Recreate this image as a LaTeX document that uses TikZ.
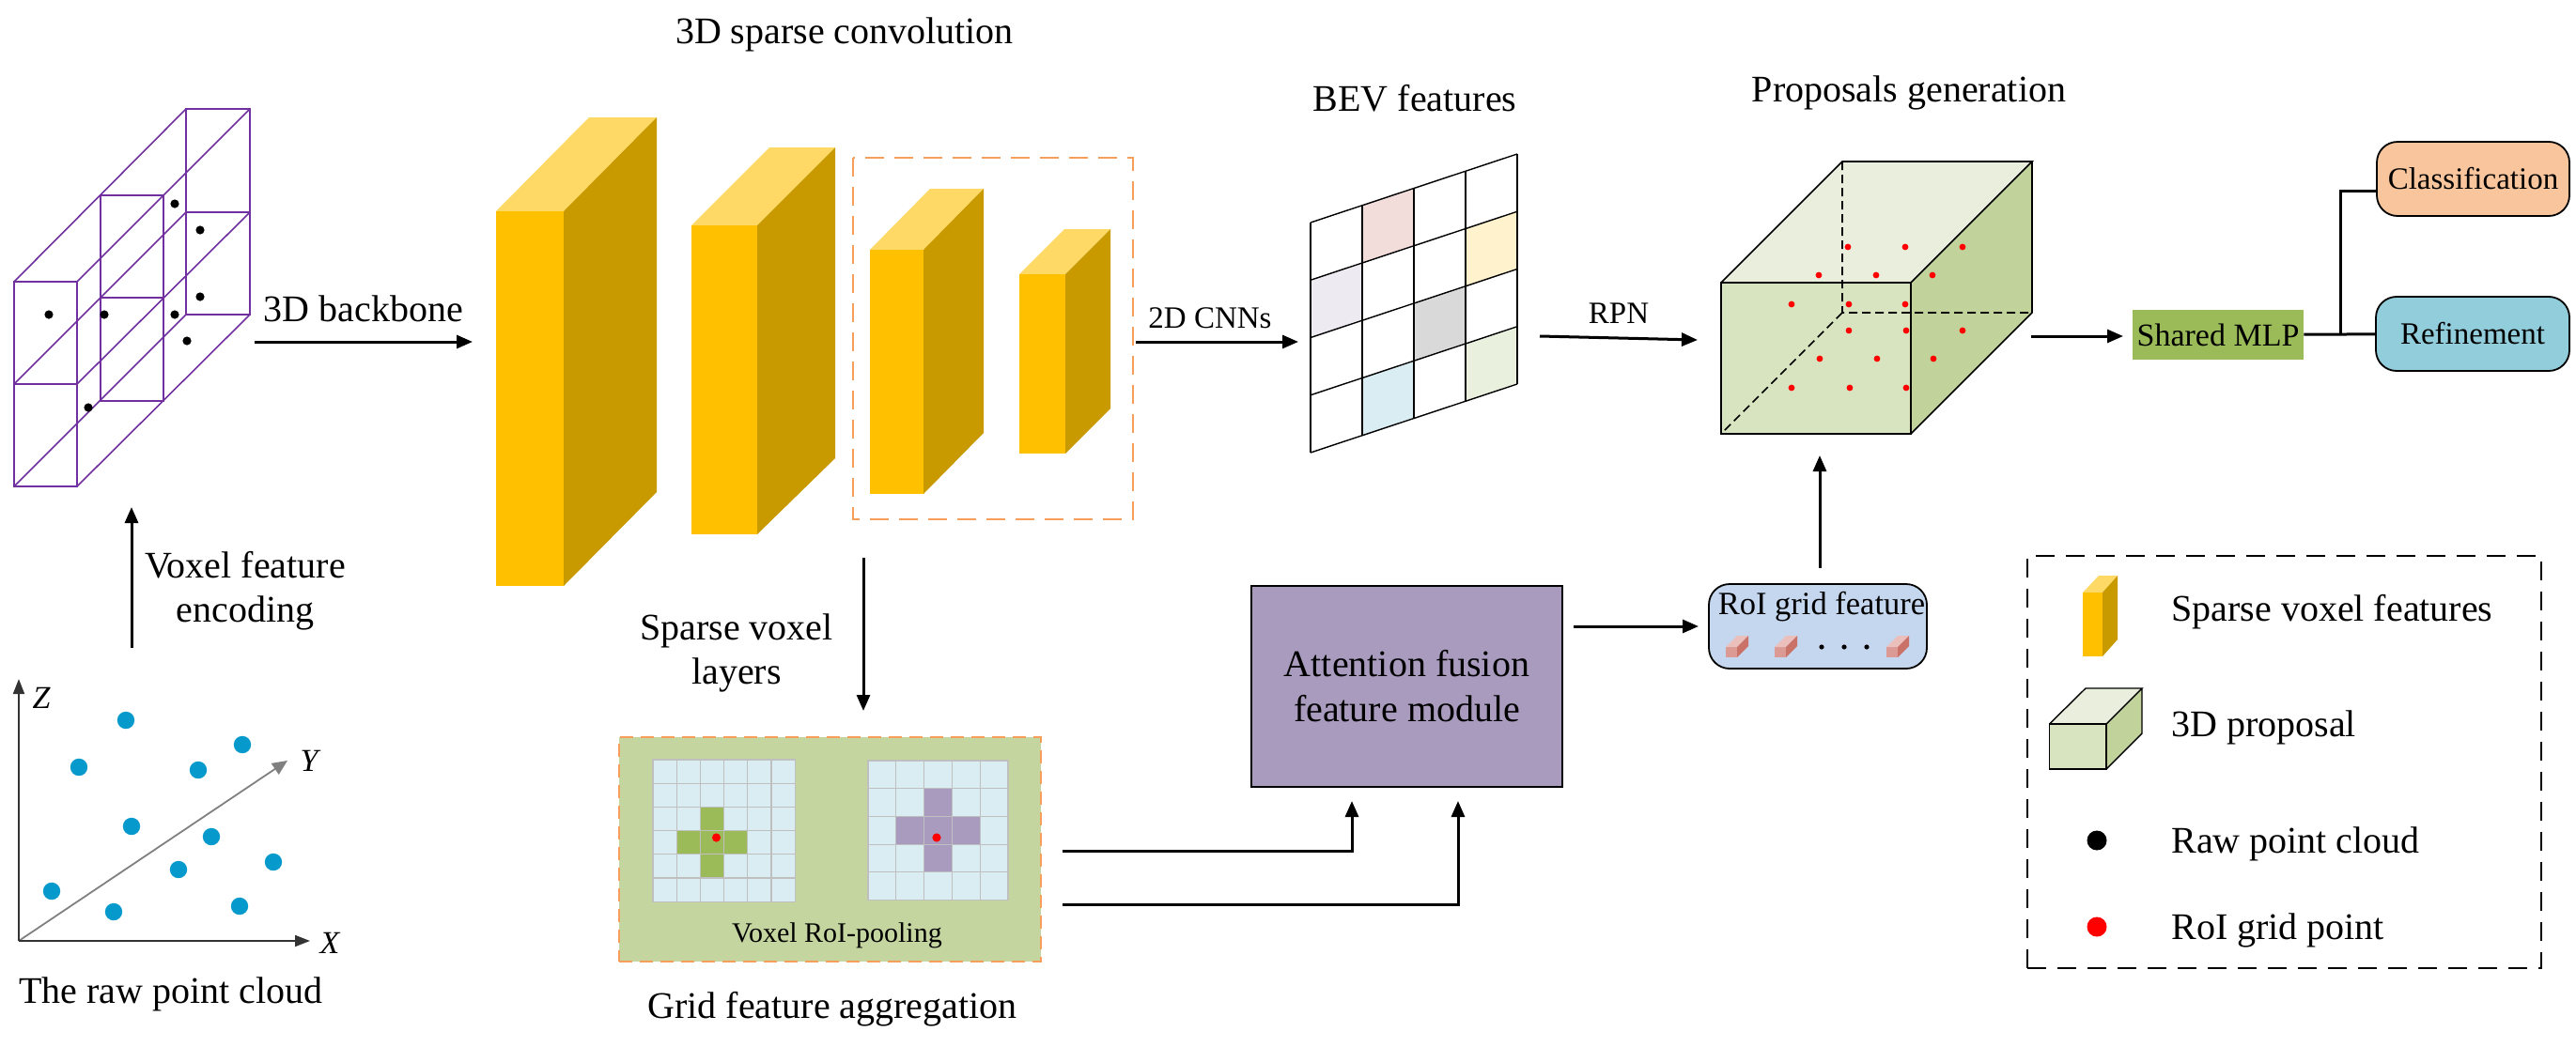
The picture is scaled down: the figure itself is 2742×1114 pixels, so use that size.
\documentclass[tikz,border=0pt]{standalone}
\usepackage{fontspec}
\setmainfont{Liberation Serif}
\usetikzlibrary{arrows.meta,positioning}

\definecolor{voxline}{HTML}{7030A0}
\definecolor{dotblue}{HTML}{0599CC}
\definecolor{blockfront}{HTML}{FFC000}
\definecolor{blocktop}{HTML}{FFD966}
\definecolor{blockside}{HTML}{C99A00}
\definecolor{dashorange}{HTML}{F79F5A}
\definecolor{panelgreen}{HTML}{C4D5A0}
\definecolor{cellblue}{HTML}{DAEDF3}
\definecolor{cellgray}{HTML}{BFBFBF}
\definecolor{plusgreen}{HTML}{9BBB59}
\definecolor{pluspurple}{HTML}{A99BBE}
\definecolor{propfront}{HTML}{D8E4BF}
\definecolor{proptop}{HTML}{E9EEDD}
\definecolor{propside}{HTML}{C1D39B}
\definecolor{roiblue}{HTML}{C5D7EF}
\definecolor{classorange}{HTML}{F9C59C}
\definecolor{refineblue}{HTML}{92CDDC}

% block: front x1 x2, y1 y2, back x3 x4, back top y, back bottom y
\newcommand{\voxblock}[8]{
   \fill[blocktop] (#1,#3) -- (#5,#7) -- (#6,#7) -- (#2,#3) -- cycle;
   \fill[blockside] (#2,#3) -- (#6,#7) -- (#6,#8) -- (#2,#4) -- cycle;
   \fill[blockfront] (#1,#3) rectangle (#2,#4);
}
% brick of the roi grid feature, left edge given
\newcommand{\roibrick}[1]{
   \fill[brickfront] (#1,689) rectangle (#1+12,700);
   \fill[bricktop] (#1,689) -- (#1+12,677) -- (#1+24,677) -- (#1+12,689) -- cycle;
   \fill[brickside] (#1+12,689) -- (#1+24,677) -- (#1+24,688) -- (#1+12,700) -- cycle;
}
\definecolor{brickfront}{HTML}{DC9A94}
\definecolor{bricktop}{HTML}{EBC0BC}
\definecolor{brickside}{HTML}{CB7268}

\begin{document}
\begin{tikzpicture}[x=0.5pt,y=-0.5pt]

   \tikzset{arrow/.style = {line width=1.5pt, -{Triangle[length=8.5pt,width=7pt]}} }
   \tikzset{wire/.style = {line width=1.5pt} }
   \tikzset{big/.style = {inner sep=0, anchor=base, font=\fontsize{20}{23.5}\selectfont} }
   \tikzset{mid/.style = {inner sep=0, anchor=base, font=\fontsize{16.5}{20}\selectfont} }
   \tikzset{legendtext/.style = {inner sep=0, anchor=base west, font=\fontsize{20}{23.5}\selectfont} }
   \tikzset{axis/.style = {inner sep=0, font=\fontsize{17}{20}\selectfont\itshape} }
   \tikzset{vox/.style = {voxline, line width=0.8pt} }
   \tikzset{rawdot/.style = {circle, fill=black, inner sep=0, minimum size=9pt} }
   \tikzset{cell/.style = {draw=cellgray, line width=0.6pt, fill=cellblue} }
   \tikzset{orangebox/.style = {draw=dashorange, line width=1.4pt, dash pattern=on 10pt off 5.5pt} }
   \tikzset{roundbox/.style = {rectangle, draw, rounded corners=11pt, line width=0.9pt, inner sep=0} }

   \useasboundingbox (0,0) rectangle (2742,1114);

   % voxel grid
   \draw[vox] (198,116) rectangle (266,335) (198,226) -- (266,226);
   \draw[vox] (15,300) -- (198,116) (82,300) -- (266,116)
   (15,409) -- (198,226) (82,409) -- (266,226)
   (15,518) -- (198,335) (82,518) -- (266,335);
   \draw[vox, line width=1.1pt] (107,208) rectangle (174,427) (107,317) -- (174,317);
   \draw[vox, line width=1pt] (15,300) rectangle (82,518) (15,409) -- (82,409);
   \foreach \px/\py in {52/335,111/335,186/217,213/245,213/316,186/335,199/363,94/434}
      \fill (\px,\py) circle (2.3pt);

   \coordinate (voxout) at (271,364);
   \coordinate (voxin) at (140,540);
   \coordinate (rawout) at (140,690);
   \coordinate (blockin) at (503,364);
   \draw[arrow] (voxout) -- (blockin) node[big, pos=0.5, above=10pt] (backbone) {3D backbone};
   \draw[arrow] (rawout) -- (voxin);
   \node[big, align=center, anchor=center] (encode) at (261,629) {Voxel feature\\encoding};

   % raw points and axes
   \coordinate (origin) at (20,1002);
   \coordinate (ztip) at (20,723);
   \coordinate (xtip) at (330,1002);
   \coordinate (ytip) at (306,810);
   \draw[line width=0.9pt, gray, -{Triangle[length=8pt,width=7pt]}] (origin) -- (ytip);
   \draw[line width=0.9pt, black!80, -{Triangle[length=8pt,width=6pt]}] (origin) -- (ztip);
   \draw[line width=0.9pt, black!80, -{Triangle[length=8pt,width=6pt]}] (origin) -- (xtip);
   \node[axis] (zlabel) at (44,743) {Z};
   \node[axis] (xlabel) at (351,1004) {X};
   \node[axis] (ylabel) at (329,810) {Y};
   \foreach \px/\py in {134/767,84/817,258/793,211/820,140/880,225/891,190/926,291/918,55/949,121/971,255/965}
      \fill[dotblue] (\px,\py) circle (4.6pt);
   \node[big] (rawcap) at (182,1068) {The raw point cloud};

   % sparse convolution blocks
   \voxblock{528}{600}{225}{624}{627}{699}{125}{524}
   \voxblock{736}{806}{240}{569}{819}{889}{157}{488}
   \voxblock{926}{983}{266}{526}{990}{1047}{201}{461}
   \voxblock{1085}{1134}{292}{483}{1133}{1182}{244}{435}
   \draw[orangebox] (908,168) rectangle (1206,553);
   \node[big] (convtitle) at (899,46) {3D sparse convolution};

   \coordinate (convout) at (1209,364);
   \coordinate (bevin) at (1382,364);
   \draw[arrow] (convout) -- (bevin);
   \node[mid] (cnns) at (1288,349) {2D CNNs};

   \coordinate (convdown) at (919,594);
   \coordinate (poolin) at (919,757);
   \draw[arrow] (convdown) -- (poolin);
   \node[big, align=center, anchor=center] (layers) at (784,695) {Sparse voxel\\layers};

   % bev features
   \node[big] (bevtitle) at (1506,118) {BEV features};
   \begin{scope}[shift={(1395,237)}, x={(27.5pt,9.125pt)}, y={(0pt,-30.625pt)}]
      \foreach \c/\r/\tint in {1/0/F2DDDB,3/1/FFF2CC,0/1/EDEAF1,2/2/D9D9D9,1/3/DAEDF3,3/3/E9F0DE} {
         \definecolor{tint}{HTML}{\tint}
         \fill[tint] (\c,\r) -- ++(1,0) -- ++(0,1) -- ++(-1,0) -- cycle;
      }
      \foreach \k in {0,...,4} {
         \draw[line width=0.7pt] (0,\k) -- (4,\k);
         \draw[line width=0.7pt] (\k,0) -- (\k,4);
      }
   \end{scope}

   \coordinate (bevout) at (1639,358);
   \coordinate (propin) at (1807,362);
   \draw[arrow] (bevout) -- (propin);
   \node[mid] (rpn) at (1723,344) {RPN};

   % proposal box
   \node[big] (proptitle) at (2032,108) {Proposals generation};
   \fill[proptop] (1832,301) -- (1961,172) -- (2163,172) -- (2034,301) -- cycle;
   \fill[propside] (2034,301) -- (2163,172) -- (2163,333) -- (2034,462) -- cycle;
   \fill[propfront] (1832,301) rectangle (2034,462);
   \draw[line width=0.8pt, dash pattern=on 4.5pt off 2.5pt] (1961,172) -- (1961,333) -- (2163,333) (1961,333) -- (1832,462);
   \draw[line width=0.8pt] (1832,301) -- (1961,172) -- (2163,172) -- (2034,301) (2163,172) -- (2163,333) -- (2034,462);
   \draw[line width=0.9pt] (1832,301) rectangle (2034,462);
   \foreach \px/\py in {1967/263,2028/263,2089/263,1936/293,1997/293,2057/293,1907/324,1968/324,2028/324,1968/352,2029/352,2089/352,1937/382,1998/382,2058/382,1907/413,1969/413,2029/413}
      \fill[red] (\px,\py) circle (1.7pt);

   % shared mlp and heads
   \node[mid, anchor=center, fill=plusgreen, minimum width=91pt, minimum height=26.5pt, font=\fontsize{17}{20}\selectfont] (mlp) at (2361,356.5) {Shared MLP};
   \node[mid, roundbox, anchor=center, fill=classorange, minimum width=102.5pt, minimum height=39.5pt] (classify) at (2632.5,190.5) {Classification};
   \node[mid, roundbox, anchor=center, fill=refineblue, minimum width=103pt, minimum height=39.5pt] (refine) at (2632,355.5) {Refinement};
   \coordinate (propout) at (2162,358);
   \coordinate (mlpin) at (2260,358);
   \coordinate (branch) at (2491.5,356);
   \coordinate (classin) at (2530,203);
   \draw[arrow] (propout) -- (mlpin);
   \draw[wire] (mlp) -- (refine);
   \draw[wire] (branch) |- (classin);

   % grid feature aggregation
   \node[orangebox, fill=panelgreen, dash pattern=on 7pt off 4pt, minimum width=224.5pt, minimum height=119.5pt, inner sep=0] (pool) at (883.5,904.5) {};
   \foreach \i in {0,...,5} \foreach \j in {0,...,5}
      \draw[cell] (695+25.2*\i,809+25.2*\j) rectangle ++(25.2,25.2);
   \foreach \i/\j in {2/2,1/3,2/3,3/3,2/4}
      \draw[cell, fill=plusgreen] (695+25.2*\i,809+25.2*\j) rectangle ++(25.2,25.2);
   \foreach \i in {0,...,4} \foreach \j in {0,...,4}
      \draw[cell] (924+29.8*\i,810+29.7*\j) rectangle ++(29.8,29.7);
   \foreach \i/\j in {2/1,1/2,2/2,3/2,2/3}
      \draw[cell, fill=pluspurple] (924+29.8*\i,810+29.7*\j) rectangle ++(29.8,29.7);
   \fill[red] (762.5,892) circle (2.3pt);
   \fill[red] (997,892) circle (2.3pt);
   \node[inner sep=0, anchor=base, font=\fontsize{15}{18}\selectfont] (pooltext) at (891,1003) {Voxel RoI-pooling};
   \node[big] (poolcap) at (886,1084) {Grid feature aggregation};

   % attention fusion
   \node[draw, fill=pluspurple, line width=0.9pt, minimum width=165.5pt, minimum height=107pt, inner sep=0, align=center, font=\fontsize{20}{24}\selectfont] (attn) at (1497.5,731) {Attention fusion\\feature module};
   \coordinate (poolup) at (1131,906);
   \coordinate (poollow) at (1131,963);
   \coordinate (attna) at (1439,853);
   \coordinate (attnb) at (1552,853);
   \draw[arrow] (poolup) -| (attna);
   \draw[arrow] (poollow) -| (attnb);

   % roi grid feature
   \node[roundbox, fill=roiblue, minimum width=116pt, minimum height=45pt] (roi) at (1935,667) {};
   \node[inner sep=0, anchor=base, font=\fontsize{17.25}{20}\selectfont] (roitext) at (1939,654) {RoI grid feature};
   \roibrick{1837}
   \roibrick{1889}
   \roibrick{2008}
   \foreach \px in {1939,1963,1987}
      \fill (\px,689) circle (1.3pt);
   \coordinate (attnout) at (1675,667);
   \coordinate (roiin) at (1808,667);
   \coordinate (roiout) at (1937,605);
   \coordinate (propup) at (1937,485);
   \draw[arrow] (attnout) -- (roiin);
   \draw[arrow] (roiout) -- (propup);

   % legend
   \node[draw, line width=1pt, dash pattern=on 10pt off 6pt, minimum width=273.5pt, minimum height=219.5pt, inner sep=0] (legend) at (2431.5,811.5) {};
   \voxblock{2217}{2238}{631}{699}{2234}{2254}{613}{681}
   \fill[proptop] (2181.5,771) -- (2220,733) -- (2280,733) -- (2242,771) -- cycle;
   \fill[propside] (2242,771) -- (2280,733) -- (2280,781) -- (2242,819) -- cycle;
   \draw[line width=0.7pt] (2181.5,771) -- (2220,733) -- (2280,733) -- (2242,771) (2280,733) -- (2280,781) -- (2242,819);
   \draw[fill=propfront, line width=0.7pt] (2181.5,771) rectangle (2242,819);
   \node[rawdot, minimum size=10.5pt] (rawkey) at (2232,895) {};
   \node[rawdot, fill=red, minimum size=10.5pt] (roikey) at (2232,987) {};
   \node[legendtext] (keyone) at (2311,661) {Sparse voxel features};
   \node[legendtext] (keytwo) at (2311,784) {3D proposal};
   \node[legendtext] (keythree) at (2311,908) {Raw point cloud};
   \node[legendtext] (keyfour) at (2311,1000) {RoI grid point};

\end{tikzpicture}
\end{document}
